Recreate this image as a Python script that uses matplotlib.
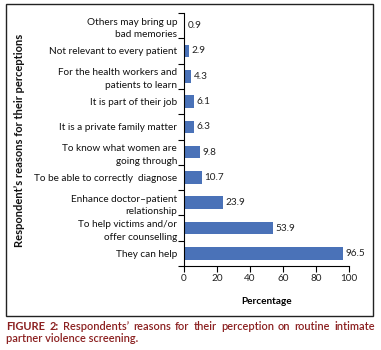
import matplotlib
matplotlib.use("Agg")
import matplotlib.pyplot as plt
from matplotlib.patches import Rectangle

categories = ["They can help", "To help victims and/or\noffer counselling",
              "Enhance doctor\u2013patient\nrelationship", "To be able to correctly  diagnose",
              "To know what women are\ngoing through", "It is a private family matter",
              "It is part of their job", "For the health workers and\npatients to learn",
              "Not relevant to every patient", "Others may bring up\nbad memories"]
values = [96.5, 53.9, 23.9, 10.7, 9.8, 6.3, 6.1, 4.3, 2.9, 0.9]
xticks = [0, 20, 40, 60, 80, 100]

plt.rcParams['font.family'] = ['Lato', 'DejaVu Sans']
W, H = 381, 350
fig = plt.figure(figsize=(W/100, H/100), dpi=100)
fig.patch.set_facecolor('white')

def fx(px): return px / W
def fy(py): return 1 - py / H

ax = fig.add_axes([fx(184), fy(266), fx(349) - fx(184), fy(13) - fy(266)])
n = len(categories)
ax.barh(range(n), values, height=0.5, color='#4a72b8')
ax.set_ylim(-0.5, n - 0.5)
ax.set_xlim(0, 100)
ax.set_xticks(xticks)
ax.set_xticklabels([str(t) for t in xticks], fontsize=7.2, color='#222222')
ax.set_yticks(range(n))
ax.set_yticklabels(categories, fontsize=7.2, color='#111111', linespacing=1.5)
ax.tick_params(axis='y', which='major', length=0, pad=5)
ax.set_yticks([i - 0.5 for i in range(n + 1)], minor=True)
ax.tick_params(axis='y', which='minor', length=4, width=0.8, direction='out')
ax.tick_params(axis='x', length=4, width=0.8, direction='out', pad=2)
for s in ['top', 'right']:
    ax.spines[s].set_visible(False)
for s in ['left', 'bottom']:
    ax.spines[s].set_linewidth(0.8)
for i, v in enumerate(values):
    ax.text(v + 1.5, i, f"{v}", va='center', ha='left', fontsize=7.2, color='#222222')

ax.set_xlabel("Percentage", fontsize=7.2, fontweight='bold', labelpad=10)

fig.text(fx(20), fy(140), "Respondent\u2019s reasons for their perceptions", rotation=90,
         ha='center', va='center', fontsize=8, fontweight='bold', color='#111111')

fig.patches.append(Rectangle((fx(6), fy(316)), fx(373) - fx(6), fy(4) - fy(316),
                             transform=fig.transFigure, fill=False, edgecolor='#222222', linewidth=1))

cap_color = '#8b2020'
cap_fs = 7.9
words = ["FIGURE", "2:", "Respondents\u2019", "reasons", "for", "their", "perception",
         "on", "routine", "intimate"]
weights = ['bold', 'bold'] + ['semibold'] * (len(words) - 2)
renderer = fig.canvas.get_renderer()
texts = []
for w, wt in zip(words, weights):
    t = fig.text(0, fy(326), w, ha='left', va='center', fontsize=cap_fs, fontweight=wt, color=cap_color)
    texts.append(t)
widths = [t.get_window_extent(renderer).width for t in texts]
x0, x1 = 6, 375
gap = (x1 - x0 - sum(widths)) / (len(words) - 1)
x = x0
for t, wd in zip(texts, widths):
    t.set_x(fx(x))
    x += wd + gap
fig.text(fx(6), fy(339), "partner violence screening.", ha='left', va='center', fontsize=cap_fs,
         fontweight='semibold', color=cap_color)

fig.savefig("out.png", dpi=100)
